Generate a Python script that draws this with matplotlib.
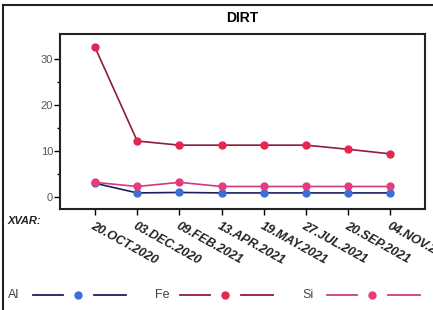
import matplotlib
matplotlib.use("Agg")
import matplotlib.pyplot as plt
from matplotlib.lines import Line2D

dates = ["20.OCT.2020", "03.DEC.2020", "09.FEB.2021", "13.APR.2021",
         "19.MAY.2021", "27.JUL.2021", "20.SEP.2021", "04.NOV.2021"]
al = [2.9, 0.8, 0.9, 0.8, 0.8, 0.8, 0.8, 0.8]
fe = [32.5, 12.1, 11.2, 11.2, 11.2, 11.2, 10.3, 9.3]
si = [3.1, 2.2, 3.1, 2.2, 2.2, 2.2, 2.2, 2.2]

series = [
    ("Al", al, "#1c1f5e", "#3b6fd6"),
    ("Fe", fe, "#8e1d3c", "#e3284d"),
    ("Si", si, "#d23a80", "#e63c7c"),
]

plt.rcParams['font.family'] = ['Liberation Sans', 'DejaVu Sans']

W, H = 433, 310
fig = plt.figure(figsize=(W / 100, H / 100), dpi=100)
ax = fig.add_axes([60 / W, 1 - 209 / H, (425 - 60) / W, (209 - 34) / H])

x = list(range(len(dates)))
for name, vals, lc, mc in series:
    ax.plot(x, vals, color=lc, lw=1.2, marker='o', ms=5, mfc=mc, mec=mc, zorder=3)

ax.set_xlim(-0.83, 7.82)
ax.set_ylim(-2.7, 35.4)
ax.set_yticks([0, 10, 20, 30])
ax.set_yticks([5, 15, 25], minor=True)
ax.tick_params(axis='y', which='major', length=4, width=1, labelsize=8, labelcolor='#555555', pad=1)
ax.tick_params(axis='y', which='minor', length=2, width=1)
ax.set_xticks(x)
ax.set_xticklabels(dates, rotation=-29, ha='left', va='top', rotation_mode='anchor',
                   fontsize=9, fontweight='bold', fontstyle='italic', color='#222222')
ax.tick_params(axis='x', length=4, width=1, pad=4)
for lbl in ax.get_xticklabels():
    lbl.set_clip_on(False)
for s in ax.spines.values():
    s.set_linewidth(1.5)
    s.set_color('#222222')

fig.text(242 / W, 1 - 18 / H, "DIRT", ha='center', va='center', fontsize=10, fontweight='bold')
fig.text(8 / W, 1 - 221 / H, "XVAR:", ha='left', va='center', fontsize=8,
         fontweight='bold', fontstyle='italic', color='#222222')

# outer border (top and left visible)
fig.add_artist(Line2D([3 / W, 1], [1 - 5 / H, 1 - 5 / H], color='#222222', lw=1.5))
fig.add_artist(Line2D([3 / W, 3 / W], [0, 1 - 5 / H], color='#222222', lw=1.5))

# legend
ly = 1 - 295 / H
starts = [8, 155, 302]
for (name, vals, lc, mc), sx in zip(series, starts):
    fig.text(sx / W, ly, name, ha='left', va='center', fontsize=9, color='#444444')
    l1 = sx + 25
    fig.add_artist(Line2D([l1 / W, (l1 + 30) / W], [ly, ly], color=lc, lw=1.3))
    fig.add_artist(Line2D([(l1 + 45) / W], [ly], marker='o', ms=5, color=mc))
    fig.add_artist(Line2D([(l1 + 61) / W, (l1 + 93) / W], [ly, ly], color=lc, lw=1.3))

fig.savefig("out.png", dpi=100)
